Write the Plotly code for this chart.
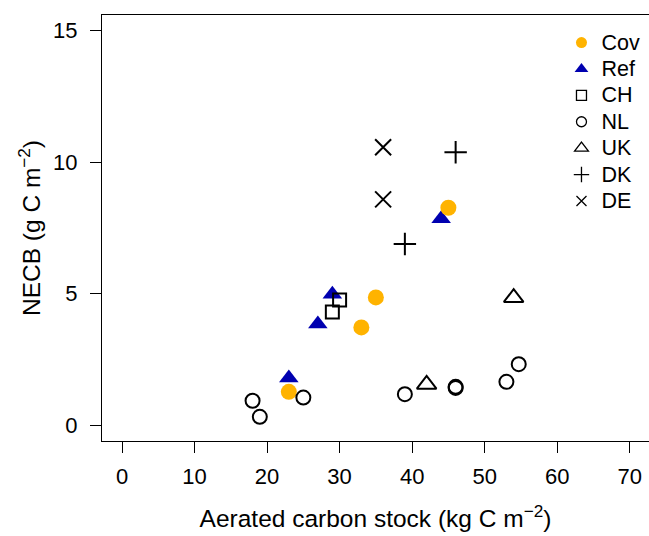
import plotly.graph_objects as go

# ---- data ----
cov_x = [45, 35, 33, 23]
cov_y = [8.27, 4.86, 3.72, 1.27]
ref_x = [44, 29, 27, 23]
ref_y = [7.85, 4.98, 3.85, 1.80]
ch_x = [30, 29]
ch_y = [4.76, 4.31]
nl_x = [18, 19, 25, 39, 46, 46, 53, 54.7]
nl_y = [0.93, 0.32, 1.05, 1.18, 1.46, 1.42, 1.65, 2.32]
uk_x = [42, 54]
uk_y = [1.55, 4.85]
dk_x = [46, 39]
dk_y = [10.38, 6.89]
de_x = [36, 36]
de_y = [10.57, 8.59]

x_ticks = [0, 10, 20, 30, 40, 50, 60, 70]
y_ticks = [0, 5, 10, 15]

ORANGE = "#FFB300"
BLUE = "#0000B0"
FONT = "Liberation Sans"

fig = go.Figure()

# main marks (draw order: Ref, Cov, then countries)
fig.add_trace(go.Scatter(x=ref_x, y=ref_y, mode="markers", showlegend=False,
                         marker=dict(symbol="triangle-up", size=17, color=BLUE, line=dict(width=0))))
fig.add_trace(go.Scatter(x=cov_x, y=cov_y, mode="markers", showlegend=False,
                         marker=dict(symbol="circle", size=16, color=ORANGE, line=dict(width=0))))
open_style = dict(color="black", width=2)
fig.add_trace(go.Scatter(x=ch_x, y=ch_y, mode="markers", showlegend=False,
                         marker=dict(symbol="square-open", size=13, color="black", line=open_style)))
fig.add_trace(go.Scatter(x=nl_x, y=nl_y, mode="markers", showlegend=False,
                         marker=dict(symbol="circle-open", size=14, color="black", line=open_style)))
fig.add_trace(go.Scatter(x=uk_x, y=uk_y, mode="markers", showlegend=False,
                         marker=dict(symbol="triangle-up-open", size=17, color="black", line=open_style)))
fig.add_trace(go.Scatter(x=dk_x, y=dk_y, mode="markers", showlegend=False,
                         marker=dict(symbol="cross-thin-open", size=16, color="black", line=open_style)))
fig.add_trace(go.Scatter(x=de_x, y=de_y, mode="markers", showlegend=False,
                         marker=dict(symbol="x-thin-open", size=16, color="black", line=open_style)))

# legend entries (smaller symbols, like the reference legend)
leg = [
    ("Cov", "circle", ORANGE, 11, 0),
    ("Ref", "triangle-up", BLUE, 12, 0),
    ("CH", "square-open", "black", 10, 1.3),
    ("NL", "circle-open", "black", 10, 1.3),
    ("UK", "triangle-up-open", "black", 12, 1.3),
    ("DK", "cross-thin-open", "black", 11, 1.3),
    ("DE", "x-thin-open", "black", 10, 1.3),
]
for name, sym, col, sz, lw in leg:
    fig.add_trace(go.Scatter(x=[None], y=[None], mode="markers",
                             name="<span style='font-size:21.5px'>" + name + "</span>",
                             marker=dict(symbol=sym, size=sz, color=col,
                                         line=dict(color="black" if lw else col, width=lw))))

axis_common = dict(showgrid=False, zeroline=False, showline=True, linecolor="black",
                   linewidth=1.2, ticks="outside", ticklen=11, tickwidth=1.2, tickcolor="black",
                   tickfont=dict(family=FONT, size=22, color="black"))

fig.update_xaxes(range=[-2.76, 72.66], tickvals=x_ticks, ticktext=[str(v) for v in x_ticks],
                 mirror=True, ticklabelstandoff=4,
                 title=dict(text="Aerated carbon stock (kg C m<sup>\u22122</sup>)",
                            font=dict(family=FONT, size=24.5, color="black"), standoff=22),
                 **axis_common)
fig.update_yaxes(range=[-0.6, 15.6], tickvals=y_ticks, ticktext=[str(v) for v in y_ticks],
                 mirror=False, ticklabelstandoff=8,
                 title=dict(text="NECB (g C m<sup>\u22122</sup>)",
                            font=dict(family=FONT, size=24.5, color="black"), standoff=5),
                 **axis_common)

fig.update_layout(
    width=649, height=536,
    margin=dict(l=102, r=0, t=15, b=95),
    plot_bgcolor="white", paper_bgcolor="white",
    font=dict(family=FONT, color="black"),
    legend=dict(x=0.840, y=0.978, xanchor="left", yanchor="top",
                bgcolor="rgba(0,0,0,0)", borderwidth=0,
                font=dict(family=FONT, size=18, color="black"),
                itemwidth=30),
)

fig.write_html("out.html")
